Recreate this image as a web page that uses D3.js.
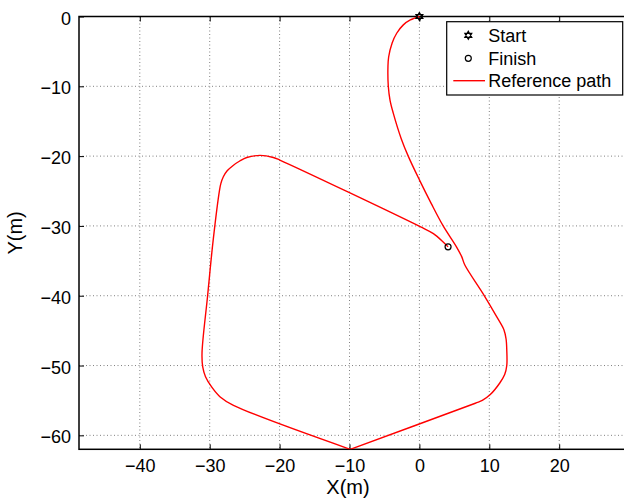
<!DOCTYPE html>
<html><head><meta charset="utf-8">
<script src="https://cdn.jsdelivr.net/npm/d3@7"></script>
<style>body{margin:0;background:#fff;} svg{display:block;font-family:"Liberation Sans",Arial,sans-serif;}</style>
</head><body>
<svg id="c" width="624" height="501"></svg>
<script>
// ---- data ----
const pathX = [0, -1.3, -2.3, -3.25, -3.9, -4.4, -4.5, -4.45, -4.2, -3.75, -2.6, -1.6, 0, 1.7, 3.4, 5.3, 6.05, 6.5, 9.1, 11.05, 12.1, 12.4, 12.5, 12.5, 12.2, 11.5, 10.1, 9.0, 8.0,
  -9.9,
  -26.6, -28.5, -29.7, -30.6, -31.0, -31.1, -30.3, -29.5, -28.6, -28.4, -28.05, -27.5, -26.6, -25.7, -24.7, -22.8, -20.9, -19.9,
  0.1, 2.0, 3.4, 4.1];
const pathY = [0, -0.5, -1.2, -2.4, -3.8, -5.8, -7.2, -10, -12, -13.8, -17.5, -20, -23.4, -26.8, -30, -33, -34.4, -35.6, -39.7, -43.0, -44.9, -46.2, -47.8, -50, -51.3, -52.5, -54.2, -55.0, -55.4,
  -62,
  -55.7, -54.5, -53.1, -51.6, -50.2, -48.2, -40, -32, -24.9, -23.9, -22.95, -22.1, -21.3, -20.7, -20.2, -19.9, -20.2, -20.6,
  -30.1, -31.1, -32.3, -33.0];
const startPt = [0, 0];
const finishPt = [4.1, -33.0];
const xTicks = [-40, -30, -20, -10, 0, 10, 20];
const yTicks = [0, -10, -20, -30, -40, -50, -60];
const legendLabels = ["Start", "Finish", "Reference path"];
const xLabel = "X(m)", yLabel = "Y(m)";

// ---- layout ----
const L = 79, T = 16.5, B = 449.3, R = 629.1;
const x = d3.scaleLinear().domain([-48.7, 30]).range([L, R]);
const y = d3.scaleLinear().domain([-62, 0]).range([B, T]);
const svg = d3.select("#c");

svg.append("defs").append("clipPath").attr("id","clip")
  .append("rect").attr("x",L).attr("y",T-1).attr("width",R-L).attr("height",B-T+1);

// grid
const g = svg.append("g");
g.selectAll(".vg").data(xTicks).join("line")
  .attr("x1",d=>x(d)).attr("x2",d=>x(d)).attr("y1",T).attr("y2",B)
  .attr("stroke","#808080").attr("stroke-width",1).attr("stroke-dasharray","1,2.5");
g.selectAll(".hg").data(yTicks).join("line")
  .attr("y1",d=>y(d)).attr("y2",d=>y(d)).attr("x1",L).attr("x2",R)
  .attr("stroke","#808080").attr("stroke-width",1).attr("stroke-dasharray","1,2.5");

// axes with inner ticks
const tl = 5;
const fmt = d=>String(d).replace("-","\u2212");
const axB = d3.axisBottom(x).tickValues(xTicks).tickSize(-tl).tickPadding(10).tickFormat(fmt);
const axT = d3.axisTop(x).tickValues(xTicks).tickSize(-tl).tickFormat("");
const axL = d3.axisLeft(y).tickValues(yTicks).tickSize(-tl).tickPadding(8).tickFormat(fmt);
function style(sel){
  sel.select(".domain").remove();
  sel.selectAll(".tick line").attr("stroke","#000").attr("stroke-width",1);
  sel.selectAll("text").attr("font-size",18).attr("fill","#000").attr("font-family","Liberation Sans, Arial, sans-serif");
}
svg.append("g").attr("transform",`translate(0,${B})`).call(axB).call(style);
svg.append("g").attr("transform",`translate(0,${T})`).call(axT).call(style);
svg.append("g").attr("transform",`translate(${L},0)`).call(axL).call(style)
  .selectAll("text").attr("dy","0.42em");

// frame
svg.append("rect").attr("x",L).attr("y",T).attr("width",R-L).attr("height",B-T)
  .attr("fill","none").attr("stroke","#000").attr("stroke-width",1.5);

// path: two smooth pieces joined at the sharp bottom vertex
const pts = pathX.map((v,i)=>[v, pathY[i]]);
const vi = pathY.indexOf(d3.min(pathY));
const lineGen = d3.line().x(d=>x(d[0])).y(d=>y(d[1])).curve(d3.curveCatmullRom.alpha(0.5));
svg.append("path").attr("clip-path","url(#clip)")
  .attr("d", lineGen(pts.slice(0, vi+1)) + lineGen(pts.slice(vi)))
  .attr("fill","none").attr("stroke","#ff0000").attr("stroke-width",1.4).attr("stroke-linejoin","round");

// markers
function hexagram(cx, cy, r){
  const tri = (off)=>d3.range(3).map(k=>{const a = off + k*2*Math.PI/3; return [cx + r*Math.sin(a), cy - r*Math.cos(a)];});
  const t1 = tri(0), t2 = tri(Math.PI);
  return "M"+t1.join("L")+"Z M"+t2.join("L")+"Z";
}
svg.append("path").attr("d", hexagram(x(startPt[0]), y(startPt[1]), 4))
  .attr("fill","none").attr("stroke","#000").attr("stroke-width",1.2);
svg.append("circle").attr("cx", x(finishPt[0])).attr("cy", y(finishPt[1])).attr("r",3)
  .attr("fill","none").attr("stroke","#000").attr("stroke-width",1.2);

// axis labels
svg.append("text").attr("x",348).attr("y",494).attr("text-anchor","middle")
  .attr("font-size",20).attr("fill","#000").text(xLabel);
svg.append("text").attr("transform",`translate(22,${(T+B)/2}) rotate(-90)`).attr("text-anchor","middle")
  .attr("font-size",20).attr("fill","#000").text(yLabel);

// legend
const lg = svg.append("g");
lg.append("rect").attr("x",446.7).attr("y",21.7).attr("width",176).attr("height",73.3)
  .attr("fill","#fff").attr("stroke","#000").attr("stroke-width",1.2);
const rows = [35.3, 58.3, 80.7];
lg.append("path").attr("d", hexagram(468.3, rows[0], 4)).attr("fill","none").attr("stroke","#000").attr("stroke-width",1.2);
lg.append("circle").attr("cx",468.3).attr("cy",rows[1]).attr("r",3).attr("fill","none").attr("stroke","#000").attr("stroke-width",1.2);
lg.append("line").attr("x1",453.3).attr("x2",485).attr("y1",rows[2]).attr("y2",rows[2]).attr("stroke","#ff0000").attr("stroke-width",1.4);
lg.selectAll("text.l").data(legendLabels).join("text").attr("class","l")
  .attr("x",488.3).attr("y",(d,i)=>rows[i]).attr("dy","0.36em")
  .attr("font-size",18).attr("fill","#000").text(d=>d);
</script>
</body></html>
